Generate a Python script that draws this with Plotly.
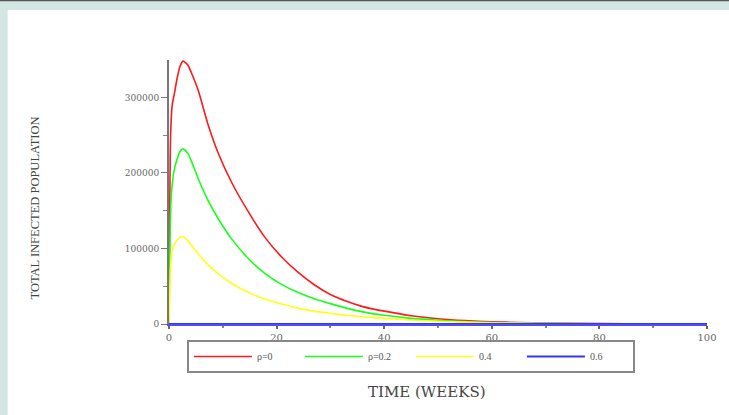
import plotly.graph_objects as go

# Time in weeks
weeks = [0, 0.3, 0.6, 1, 1.5, 2, 2.6, 3.5, 4.2, 5.4, 7.3, 9.1, 11.6, 14.7, 17.8,
         20.9, 23.9, 27, 30, 33, 36, 40, 45, 50, 55, 60, 65, 70, 80, 90, 100]

# Total infected population (thousands) for each rho
rho_0 = [0, 250, 290, 305, 325, 340, 348, 343, 332, 310, 263, 227, 188, 149, 115,
         89, 69, 52, 39, 30, 23, 17, 11, 7, 4.5, 3, 2, 1.2, 0.5, 0.2, 0.1]
rho_02 = [0, 150, 185, 205, 218, 228, 232, 226, 215, 193, 163, 140, 113, 87, 67,
          52.5, 42, 33.5, 27, 21, 16, 11.5, 7.5, 5, 3.2, 2, 1.3, 0.8, 0.3, 0.1, 0.05]
rho_04 = [0, 75, 98, 105, 111, 115, 115.5, 110, 104, 93, 78, 67, 54, 42, 33,
          26.5, 21, 17, 14, 11.5, 9.5, 7.5, 5.2, 3.6, 2.5, 1.7, 1.1, 0.7, 0.3, 0.1, 0.05]
rho_06 = [0] * len(weeks)

series_names = ["\u03c1=0", "\u03c1=0.2", "0.4", "0.6"]
series_values = [rho_0, rho_02, rho_04, rho_06]
series_colors = ["#ff1a1a", "#1aff1a", "#ffff1a", "#3333ff"]

x_ticks = [0, 20, 40, 60, 80, 100]
y_ticks = [0, 100000, 200000, 300000]

fig = go.Figure()
for name, vals, col in zip(series_names, series_values, series_colors):
    fig.add_trace(go.Scatter(x=weeks, y=[v * 1000 for v in vals], mode="lines",
                             name=name,
                             line=dict(color=col, width=2 if name == "0.6" else 1.6,
                                       shape="spline", smoothing=0.6)))

W, H = 729, 415
L, R, T, B = 169, 20, 60, 91
pw, ph = W - L - R, H - T - B

def px_x(p):
    return (p - L) / pw

def px_y(p):
    return (H - B - p) / ph

fig.update_layout(
    width=W, height=H,
    margin=dict(l=L, r=R, t=T, b=B),
    paper_bgcolor="#d3e6e3",
    plot_bgcolor="white",
    showlegend=True,
    legend=dict(orientation="h", x=px_x(187), y=px_y(340), xanchor="left", yanchor="top",
                bordercolor="#888888", borderwidth=2, bgcolor="white",
                font=dict(family="Liberation Serif", size=10, color="#555555"),
                entrywidth=38, itemwidth=58, tracegroupgap=0),
    xaxis=dict(range=[0, 100], tickvals=x_ticks, ticks="outside", ticklen=3, tickwidth=2,
               tickcolor="#666666", showline=True, linecolor="#4d4dff", linewidth=2,
               showgrid=False, zeroline=False, layer="below traces",
               tickfont=dict(family="DejaVu Serif", size=10, color="#666666"),
               minor=dict(dtick=10, ticks="outside", ticklen=2, tickcolor="#888888")),
    yaxis=dict(range=[0, 349500], tickvals=y_ticks, ticktext=[str(v) for v in y_ticks],
               ticks="outside", ticklen=6, tickcolor="#777777",
               showline=True, linecolor="#777777", linewidth=2,
               showgrid=False, zeroline=False,
               tickfont=dict(family="DejaVu Serif", size=9, color="#666666"),
               minor=dict(dtick=50000, ticks="outside", ticklen=4, tickcolor="#888888")),
    shapes=[
        dict(type="rect", xref="paper", yref="paper", x0=px_x(7), x1=px_x(W + 5),
             y0=px_y(H + 5), y1=px_y(10), fillcolor="white", line=dict(width=0), layer="below"),
        dict(type="line", xref="paper", yref="paper", x0=px_x(-5), x1=px_x(W + 5),
             y0=px_y(0.5), y1=px_y(0.5), line=dict(color="#555555", width=1.5)),
    ],
    annotations=[
        dict(text="TOTAL INFECTED POPULATION", textangle=-90, xref="paper", yref="paper",
             x=px_x(35), y=px_y(208), showarrow=False, xanchor="center", yanchor="middle",
             font=dict(family="Liberation Serif", size=12.5, color="#444444")),
        dict(text="TIME (WEEKS)", xref="paper", yref="paper",
             x=px_x(428), y=px_y(392), showarrow=False, xanchor="center", yanchor="middle",
             font=dict(family="DejaVu Serif", size=15, color="#444444")),
    ],
)

fig.write_html("out.html", config={"displayModeBar": False},
               post_script="document.body.style.margin='0';document.body.style.overflow='hidden';")
